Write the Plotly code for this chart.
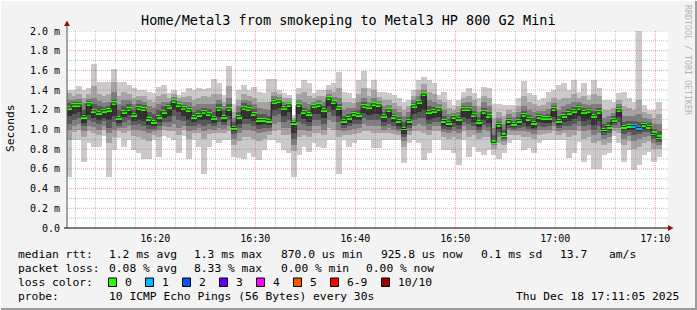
import plotly.graph_objects as go
from datetime import datetime, timedelta

# ---------------- data (values in 1/100 ms) ----------------
START = datetime(2025, 12, 18, 16, 11, 5)   # start of first 30 s step
STEP_S = 30

median = [122,125,125,113,126,119,117,119,120,127, 112,118,121,115,122,121,111,108,113,118,
          123,129,125,122,120,113,115,118,116,112, 121,113,121,102,113,122,121,116,110,110,
          109,128,129,122,125,107,125,118,116,124, 125,120,132,128,122,109,112,116,115,124,
          123,126,125,114,120,113,109,101,109,124, 128,136,118,119,121,109,107,113,111,121,
          121,115,108,118,114,87,105,94,109,106, 109,115,111,107,113,112,112,121,109,114,
          117,119,122,118,119,114,118,100,103,110, 120,103,104,104,102,105,103,96,92]
ping_max = [140,140,144,140,142,166,148,148,148,161, 148,148,145,142,140,140,138,137,143,145,
            137,140,135,138,142,140,142,141,142,151, 147,135,164,126,140,145,140,143,138,137,
            151,151,140,137,135,115,142,150,147,137, 140,140,145,147,158,138,137,132,150,159,
            142,150,138,138,137,135,132,128,130,140, 150,153,150,147,135,138,130,125,130,138,
            142,137,132,143,142,126,126,125,125,125, 132,149,137,135,130,132,138,140,145,147,
            140,150,138,147,135,150,142,130,130,128, 137,138,132,128,203,125,120,120,128]
ping_min = [52,89,89,67,86,82,82,93,52,79, 91,82,89,79,76,70,70,89,72,93,
            91,89,76,93,70,89,82,55,82,89, 86,89,89,72,71,70,76,72,69,79,
            89,89,86,79,76,52,74,82,77,86, 82,81,89,89,55,89,82,86,89,89,
            89,81,81,89,89,89,89,66,86,89, 86,69,76,89,89,79,79,76,64,89,
            72,82,77,74,79,74,70,76,86,89, 89,79,81,76,86,89,89,89,89,89,
            71,76,87,67,74,60,60,74,76,93, 86,67,79,59,64,74,77,67,72]
ping_9 = [137,134,136,132,136,144,136,134,136,148, 134,138,136,132,134,134,130,128,134,136,
          132,136,132,133,134,130,132,134,133,136, 136,128,144,118,130,136,134,132,128,128,
          128,138,136,132,132,112,136,138,134,132, 134,134,140,138,142,128,128,127,136,142,
          134,140,133,130,130,127,124,120,124,134, 140,146,138,136,130,128,122,120,124,132,
          134,130,124,134,132,112,118,114,120,118, 124,134,128,126,124,125,128,132,130,132,
          132,136,132,134,130,136,134,120,120,122, 130,124,122,120,130,118,116,112,116]
ping_2 = [89,97,100,92,98,96,94,100,86,92, 98,96,98,93,92,90,88,94,92,100,
          98,98,94,99,90,96,96,90,95,96, 96,96,98,84,88,92,92,90,88,90,
          94,98,100,94,94,78,92,94,92,96, 96,94,102,100,92,94,94,95,96,98,
          98,96,96,96,96,95,94,82,94,98, 98,96,94,98,98,92,90,92,90,98,
          92,94,90,92,92,80,86,84,94,94, 94,92,92,90,94,95,96,98,94,96,
          92,94,98,90,92,86,88,84,86,98, 96,84,88,80,82,86,88,80,80]
ping_8 = [130,130,131,127,131,132,129,127,128,138, 126,130,130,126,130,128,124,122,126,128,
          128,133,129,128,128,124,126,126,126,126, 130,124,132,112,124,130,129,126,122,121,
          120,134,133,128,128,110,130,128,126,128, 130,128,136,133,132,120,122,122,128,132,
          128,132,129,124,125,121,118,114,118,130, 134,140,130,128,126,120,116,117,118,127,
          128,124,118,128,124,102,112,106,116,113, 118,124,120,118,119,119,121,127,120,124,
          126,128,128,126,125,126,126,112,114,117, 126,114,114,114,116,112,111,106,106]
ping_3 = [100,104,106,98,104,103,100,104,96,100, 102,102,104,100,100,98,96,98,99,104,
          103,106,102,104,98,100,102,98,101,100, 102,101,104,90,96,100,99,98,96,97,
          98,106,108,102,102,84,100,100,98,104, 104,100,110,108,100,98,100,101,102,106,
          104,104,104,100,102,100,98,88,98,104, 106,104,100,104,104,97,96,98,96,104,
          100,100,96,100,98,84,92,88,99,98, 98,98,97,95,100,100,100,104,98,100,
          99,100,104,98,99,94,96,90,92,102, 102,90,93,88,90,92,93,86,84]
ping_7 = [127,128,128,120,129,126,124,123,124,130, 120,124,126,120,126,125,118,116,120,124,
          126,131,127,125,123,118,120,122,121,118, 126,120,126,108,118,127,125,121,116,116,
          114,131,131,125,126,108,127,122,120,126, 127,124,134,130,126,114,116,119,120,128,
          125,128,127,118,122,116,113,108,113,127, 130,138,124,123,123,114,111,115,114,124,
          124,119,113,122,118,94,108,100,112,109, 113,119,115,112,116,115,116,124,114,118,
          121,123,125,122,122,119,122,106,108,114, 123,108,109,109,108,108,107,101,98]
ping_4 = [106,110,112,104,110,108,106,109,102,108, 104,108,110,105,106,104,101,101,104,108,
          108,114,110,109,104,104,106,104,106,104, 108,105,110,95,102,106,106,104,101,102,
          102,114,116,108,110,90,108,106,104,110, 110,106,118,114,108,102,104,106,106,112,
          110,110,110,104,106,104,101,92,102,110, 112,112,106,108,108,101,100,103,101,108,
          106,104,100,105,103,85,97,90,102,101, 102,103,101,99,104,103,104,108,102,104,
          104,106,109,104,105,100,104,94,96,105, 108,95,97,94,95,97,97,90,87]
ping_6 = [124,126,126,116,127,121,119,120,121,128, 114,119,122,117,123,122,113,110,115,120,
          124,130,126,123,121,114,116,119,117,114, 122,115,122,104,115,124,122,118,112,111,
          111,129,130,123,125,107,126,119,117,125, 126,121,133,129,123,110,113,117,116,125,
          124,127,126,115,121,114,110,102,110,125, 129,137,120,120,122,110,108,114,112,122,
          122,116,109,119,115,89,106,96,110,107, 110,116,112,108,114,113,113,122,110,115,
          118,120,123,119,120,115,119,102,104,111, 121,104,105,105,103,106,104,97,93]
ping_5 = [114,116,118,107,115,112,110,112,110,114, 107,113,115,109,110,109,105,104,108,112,
          114,120,118,114,110,108,110,110,110,107, 113,108,114,98,106,111,111,109,105,106,
          105,120,122,114,118,96,116,111,108,116, 116,112,124,120,114,105,107,110,110,117,
          115,116,116,108,112,108,104,95,105,116, 118,120,110,112,113,104,103,107,105,113,
          111,108,103,110,107,86,101,92,105,103, 105,107,104,102,108,107,107,113,105,108,
          109,111,114,109,110,105,109,97,99,107, 113,99,100,99,98,101,100,93,89]
lost_pings = [0]*113 + [1, 1] + [0]*4

y_tick_vals = [0.0, 0.2, 0.4, 0.6, 0.8, 1.0, 1.2, 1.4, 1.6, 1.8, 2.0]
y_tick_text = ["0.0", "0.2 m", "0.4 m", "0.6 m", "0.8 m", "1.0 m", "1.2 m",
               "1.4 m", "1.6 m", "1.8 m", "2.0 m"]
x_tick_text = ["16:20", "16:30", "16:40", "16:50", "17:00", "17:10"]

loss_labels = ["0", "1", "2", "3", "4", "5", "6-9", "10/10"]
loss_colors = ["#26ff00", "#00b8ff", "#0059ff", "#5e00ff", "#ff00ff", "#ff5500", "#ff0000", "#a10000"]

title = "Home/Metal3 from smokeping to Metal3 HP 800 G2 Mini"

n = len(median)
for arr in (ping_max, ping_min, ping_9, ping_2, ping_8, ping_3, ping_7, ping_4, ping_6, ping_5, lost_pings):
    assert len(arr) == n, len(arr)

# ---------------- figure ----------------
W, H = 697, 310
L, R, T, B = 67, 29, 31, 82
PW, PH = W - L - R, H - T - B

def px(x):
    return (x - L) / PW

def py(y):
    return (T + PH - y) / PH

ms = lambda a: [v / 100.0 for v in a]
t_start = [START + timedelta(seconds=STEP_S * k) for k in range(n)]
t_mid = [t + timedelta(seconds=STEP_S / 2) for t in t_start]
fmt = lambda t: t.strftime("%Y-%m-%d %H:%M:%S")
xm = [fmt(t) for t in t_mid]
# a little over one step wide so neighbouring columns overlap (no anti-alias seams)
BAR_MS = STEP_S * 1000 + 5000

fig = go.Figure()

bands = [(ping_max, ping_min, "#cacaca"), (ping_9, ping_2, "#a4a4a4"),
         (ping_8, ping_3, "#7e7e7e"), (ping_7, ping_4, "#585858"),
         (ping_6, ping_5, "#323232")]
for hi, lo, col in bands:
    hiv, lov = ms(hi), ms(lo)
    fig.add_trace(go.Bar(x=xm, y=[a - b for a, b in zip(hiv, lov)], base=lov,
                         width=[BAR_MS] * n, marker=dict(color=col, line=dict(width=0)),
                         hoverinfo="skip", showlegend=False))

medv = ms(median)
# black step line through medians
fig.add_trace(go.Scatter(x=[fmt(t) for t in t_start] + [fmt(t_start[-1] + timedelta(seconds=STEP_S))],
                         y=medv + [medv[-1]], mode="lines", line=dict(color="#202020", width=1, shape="hv"),
                         hoverinfo="skip", showlegend=False))
MH = 0.04
def loss_col(l):
    if l <= 5:
        return loss_colors[l]
    if l < 10:
        return loss_colors[6]
    return loss_colors[7]
fig.add_trace(go.Bar(x=xm, y=[MH] * n, base=[m - MH / 2 for m in medv], width=[BAR_MS] * n,
                     marker=dict(color=[loss_col(l) for l in lost_pings], line=dict(width=0)),
                     hoverinfo="skip", showlegend=False))

x0 = "2025-12-18 16:11:10"
x1 = "2025-12-18 17:11:16"
x_tick_vals = ["2025-12-18 %s:00" % s for s in x_tick_text]

shapes = []
minor_col = "rgba(120,120,120,0.45)"
major_col = "rgba(215,40,40,0.42)"
# horizontal grid
for i in range(1, 21):
    yv = i / 10.0
    shapes.append(dict(type="line", xref="paper", yref="y", x0=0, x1=1, y0=yv, y1=yv,
                       line=dict(color=major_col if i % 2 == 0 else minor_col, width=1, dash="1px,1px"),
                       layer="above"))
# vertical grid
g = datetime(2025, 12, 18, 16, 12, 0)
while g <= datetime(2025, 12, 18, 17, 10, 0):
    shapes.append(dict(type="line", xref="x", yref="paper", x0=fmt(g), x1=fmt(g), y0=0, y1=1,
                       line=dict(color=major_col if g.minute % 10 == 0 else minor_col, width=1, dash="1px,1px"),
                       layer="above"))
    g += timedelta(minutes=2)

# axes lines and arrows
shapes.append(dict(type="line", xref="paper", yref="paper", x0=px(67), x1=px(67), y0=py(228), y1=py(24),
                   line=dict(color="#505050", width=1), layer="above"))
shapes.append(dict(type="line", xref="paper", yref="paper", x0=px(64), x1=px(670), y0=py(228), y1=py(228),
                   line=dict(color="#000000", width=1), layer="above"))
shapes.append(dict(type="path", xref="paper", yref="paper",
                   path="M %f %f L %f %f L %f %f Z" % (px(64), py(26), px(70), py(26), px(67), py(20.5)),
                   fillcolor="#9a1010", line=dict(width=0), layer="above"))
shapes.append(dict(type="path", xref="paper", yref="paper",
                   path="M %f %f L %f %f L %f %f Z" % (px(668), py(225), px(668), py(231), px(673.5), py(228)),
                   fillcolor="#9a1010", line=dict(width=0), layer="above"))
# frame
shapes.append(dict(type="line", xref="paper", yref="paper", x0=px(0), x1=px(697), y0=py(309), y1=py(309),
                   line=dict(color="#9c9c9c", width=2)))
shapes.append(dict(type="line", xref="paper", yref="paper", x0=px(696), x1=px(696), y0=py(0), y1=py(310),
                   line=dict(color="#9c9c9c", width=2)))
shapes.append(dict(type="line", xref="paper", yref="paper", x0=px(0), x1=px(697), y0=py(0.5), y1=py(0.5),
                   line=dict(color="#ffffff", width=1)))
shapes.append(dict(type="line", xref="paper", yref="paper", x0=px(0.5), x1=px(0.5), y0=py(0), y1=py(310),
                   line=dict(color="#ffffff", width=1)))

MONO = "DejaVu Sans Mono"
ann = []
def text(x, y, s, anchor="left", size=11.3, color="#000000", angle=0):
    ann.append(dict(xref="paper", yref="paper", x=px(x), y=py(y), text=s, showarrow=False,
                    xanchor=anchor, yanchor="middle", textangle=angle,
                    font=dict(family=MONO, size=size, color=color)))

text(348.5, 19.5, title, anchor="center", size=13.5)
text(10, 128, "Seconds", anchor="center", size=11.3, angle=-90)
text(688, 60, "RRDTOOL / TOBI OETIKER", anchor="center", size=8.3, color="#b4b4b4", angle=90)

rows = [
    (254, [(16, "median rtt:"), (107, "1.2 ms avg"), (192, "1.3 ms max"), (279, "870.0 us min"),
           (379, "925.8 us now"), (479, "0.1 ms sd"), (558, "13.7"), (607, "am/s")]),
    (268, [(16, "packet loss:"), (107, "0.08 % avg"), (192, "8.33 % max"), (279, "0.00 % min"),
           (364, "0.00 % now")]),
    (282, [(16, "loss color:")]),
    (296, [(16, "probe:"), (107, "10 ICMP Echo Pings (56 Bytes) every 30s")]),
]
for yy, segs in rows:
    for xx, s in segs:
        text(xx, yy, s)
text(681, 296, "Thu Dec 18 17:11:05 2025", anchor="right")

box_x = [108, 145, 182, 219, 256, 293, 330, 381]
for bx, lab, col in zip(box_x, loss_labels, loss_colors):
    shapes.append(dict(type="rect", xref="paper", yref="paper", x0=px(bx + 0.5), x1=px(bx + 8.5),
                       y0=py(286.5), y1=py(278), fillcolor=col, line=dict(color="#000000", width=1)))
    text(bx + 15, 282, lab)

fig.update_layout(
    width=W, height=H, margin=dict(l=L, r=R, t=T, b=B, pad=0),
    paper_bgcolor="#f3f3f3", plot_bgcolor="#ffffff",
    barmode="overlay", bargap=0, showlegend=False,
    shapes=shapes, annotations=ann,
    font=dict(family=MONO, size=10, color="#000000"),
    xaxis=dict(type="date", range=[x0, x1], showgrid=False, zeroline=False, showline=False,
               tickmode="array", tickvals=x_tick_vals, ticktext=x_tick_text, ticks="",
               tickfont=dict(family=MONO, size=10, color="#000000"), ticklabelstandoff=3,
               fixedrange=True),
    yaxis=dict(range=[0, 2.0], showgrid=False, zeroline=False, showline=False,
               tickmode="array", tickvals=y_tick_vals, ticktext=y_tick_text, ticks="",
               tickfont=dict(family=MONO, size=10, color="#000000"), ticklabelstandoff=6,
               fixedrange=True),
)

fig.write_html("out.html", config={"displayModeBar": False})
